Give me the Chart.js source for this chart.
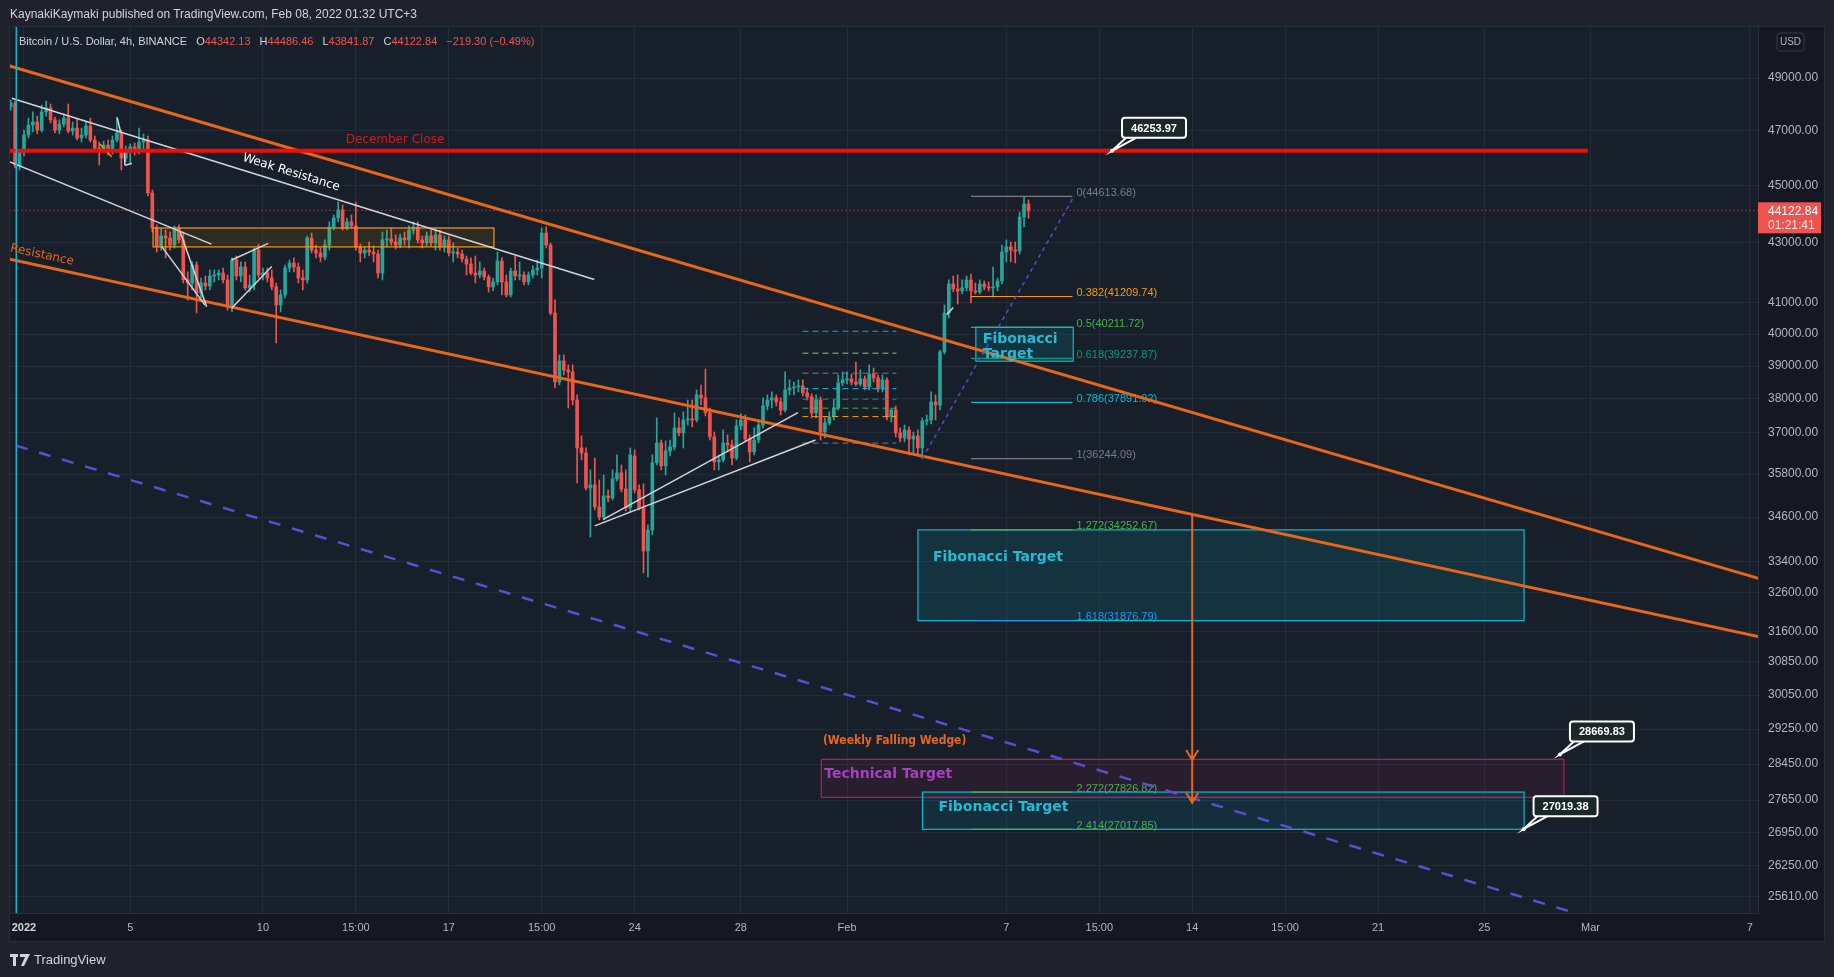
<!DOCTYPE html>
<html>
<head>
<meta charset="utf-8">
<title>Bitcoin / U.S. Dollar, 4h</title>
<script src="https://cdn.jsdelivr.net/npm/chart.js@4.4.1/dist/chart.umd.min.js"></script>
<style>
  html, body { margin: 0; padding: 0; background: #1f222c; }
  body { width: 1834px; height: 977px; position: relative; overflow: hidden; font-family: "Liberation Sans", Arial, sans-serif; }
  #chart { position: absolute; left: 0; top: 0; }
  .hdr { position: absolute; left: 10px; top: 7px; font-size: 12px; color: #d1d4dc; white-space: pre; }
  .legend { position: absolute; left: 19px; top: 35px; font-size: 11px; color: #d1d4dc; white-space: pre; }
  .legend .v { color: #ef5350; }
  .legend .g { margin-left: 9px; }
  .logo { position: absolute; left: 10px; top: 952px; font-size: 13px; color: #d1d4dc; display: flex; align-items: center; }
  .logo svg { margin-right: 4px; }
</style>
</head>
<body>
<canvas id="chart" width="1834" height="977"></canvas>
<div class="hdr">KaynakiKaymaki published on TradingView.com, Feb 08, 2022 01:32 UTC+3</div>
<div class="legend">Bitcoin / U.S. Dollar, 4h, BINANCE<span class="g">O</span><span class="v">44342.13</span><span class="g">H</span><span class="v">44486.46</span><span class="g">L</span><span class="v">43841.87</span><span class="g">C</span><span class="v">44122.84</span><span class="g v">−219.30 (−0.49%)</span></div>
<div class="logo"><svg width="20" height="12" viewBox="0 0 20 12"><rect x="0" y="0" width="8" height="3" fill="#d1d4dc"/><rect x="3" y="0" width="3" height="12" fill="#d1d4dc"/><polygon points="10,0 20,0 14,12 11,12 15,3 10,3" fill="#d1d4dc"/></svg>TradingView</div>
<script>
// 4h bars, first one starts 3 bars before 1 Jan 2022 00:00 (UTC+3)
const firstBar = -3;

const opens = [
  47890, 48040, 45700,
  46210, 46835, 47210, 47320, 47020, 47700,
  47850, 47400, 47020, 47245, 47470, 46985,
  47095, 46725, 46835, 47170, 46650, 46355,
  46285, 46465, 46210, 46650, 46910, 45990,
  46285, 46395, 46210, 46575, 46650, 44735,
  43510, 42895, 43235, 43165, 42925, 43510,
  43100, 41755, 41655, 42250, 41325, 41655,
  41555, 41885, 41920, 41985, 41755, 40870,
  42420, 41885, 42185, 41490, 41590, 42755,
  41920, 41985, 41820, 41525, 40935, 41260,
  42150, 42320, 42185, 41820, 41755, 43165,
  42755, 42655, 42520, 42925, 43545, 43855,
  44135, 43510, 43720, 43580, 42860, 42655,
  42755, 42690, 42620, 41985, 43100, 43130,
  43030, 42925, 43165, 43100, 43440, 43545,
  43100, 42995, 43235, 42995, 43270, 42860,
  43100, 42655, 42690, 42620, 42455, 42285,
  41985, 41920, 42050, 41850, 41525, 41690,
  42385, 41690, 41260, 42050, 41885, 41920,
  41690, 41920, 42085, 42150, 43335, 42925,
  40675, 38510, 39160, 38880, 38820, 37965,
  36550, 36405, 35410, 35495, 34880, 34605,
  35185, 35130, 35665, 35835, 35380, 34855,
  36320, 35355, 34855, 33685, 34250, 36120,
  36695, 36035, 36465, 36580, 37135, 36990,
  37370, 37400, 37370, 38120, 38030, 37580,
  36870, 36150, 36205, 36695, 36635, 36260,
  37195, 37370, 36810, 36435, 36780, 37220,
  37785, 37965, 38030, 37905, 37665, 38270,
  38330, 38360, 38390, 38180, 38060, 37580,
  37965, 37015, 37280, 37460, 37725, 38480,
  38575, 38605, 38510, 38450, 38605, 38360,
  38755, 38635, 38300, 38575, 37460, 37665,
  36990, 36840, 37075, 36810, 36900, 36550,
  37340, 37370, 37905, 37815, 39440, 40675,
  41620, 41460, 41390, 41490, 41755, 41390,
  41360, 41620, 41525, 41490, 41525, 41720,
  42690, 42860, 42755, 42720, 43890, 44342.13
];
const highs = [
  48150, 48115, 46285,
  47020, 47470, 47700, 47545, 47960, 48115,
  48000, 47510, 47400, 47620, 48000, 47320,
  47470, 47095, 47320, 47470, 46800, 46575,
  46615, 46650, 46800, 47510, 47020, 46430,
  46505, 46540, 47095, 46875, 46800, 44840,
  43615, 43510, 43440, 43370, 43580, 43615,
  43370, 42020, 42355, 42355, 41820, 41885,
  42085, 42085, 42085, 42150, 41920, 42490,
  42555, 42355, 42355, 41920, 42825, 42960,
  42150, 42150, 42085, 41655, 41425, 42250,
  42420, 42490, 42320, 42085, 43235, 43335,
  42925, 42825, 43100, 43720, 43960, 44415,
  44310, 43855, 43960, 44415, 42960, 42860,
  43030, 42895, 42755, 43370, 43440, 43510,
  43270, 43300, 43370, 43580, 43720, 43720,
  43235, 43370, 43440, 43510, 43440, 43235,
  43235, 42995, 42825, 42755, 42555, 42490,
  42555, 42355, 42150, 41920, 41820, 42690,
  42490, 41920, 42150, 42555, 42355, 42020,
  42020, 42220, 42420, 43510, 43545, 42995,
  41100, 39345, 39345, 39035, 39035, 38120,
  36900, 36550, 35920, 36260, 35635, 35775,
  35355, 35920, 36350, 36060, 35920, 36550,
  36490, 35495, 35525, 34390, 36350, 37430,
  36780, 36755, 36780, 37580, 37430, 37610,
  37965, 37965, 38270, 38420, 38910, 37725,
  37015, 36350, 37075, 36930, 36780, 37370,
  37550, 37520, 36930, 37135, 37370, 38030,
  38120, 38210, 38120, 38030, 38820, 38575,
  38510, 38575, 38575, 38330, 38150, 38120,
  38060, 37430, 37610, 37965, 38725, 38820,
  38820, 38755, 39125, 38880, 38695, 39035,
  38940, 38725, 38725, 38635, 37725, 37785,
  37135, 37220, 37165, 37015, 37075, 37430,
  37520, 38210, 38120, 39500, 40935, 41755,
  41885, 41920, 41755, 41885, 41950, 41655,
  41755, 41720, 41690, 42185, 41820, 42925,
  43100, 43030, 43030, 44065, 44613.68, 44486.46
];
const lows = [
  47770, 45630, 45555,
  46065, 46725, 46950, 46875, 46950, 47545,
  47285, 46910, 46875, 47135, 46910, 46835,
  46650, 46575, 46725, 46575, 46285, 45735,
  46210, 46100, 46135, 46575, 45555, 45845,
  45810, 46100, 46135, 46285, 44630, 43370,
  42690, 42755, 42490, 42755, 42825, 42995,
  41655, 41100, 41425, 40675, 41165, 41425,
  41425, 41690, 41755, 41655, 40770, 40710,
  41755, 41690, 41425, 41360, 41425, 41820,
  41755, 41690, 41425, 39720, 40710, 41165,
  42020, 42020, 41655, 41425, 41655, 42655,
  42490, 42355, 42420, 42755, 43440, 43720,
  43440, 43440, 43510, 42755, 42355, 42490,
  42555, 42355, 41820, 41755, 42860, 42925,
  42790, 42825, 42925, 42825, 43300, 42995,
  42825, 42895, 42895, 42755, 42755, 42690,
  42555, 42355, 42490, 42355, 41920, 41920,
  41655, 41820, 41755, 41360, 41390, 41590,
  41260, 41195, 41195, 41755, 41755, 41590,
  41590, 41820, 41920, 41820, 42825, 40610,
  38330, 38420, 38725, 37725, 37815, 35550,
  36205, 35355, 34060, 34800, 34525, 34525,
  35020, 35075, 35605, 35300, 34770, 34745,
  35270, 34800, 33105, 33000, 34115, 36060,
  35920, 35775, 36320, 36490, 36900, 36550,
  37220, 37165, 37310, 37815, 37490, 36780,
  35920, 35920, 36150, 36435, 36060, 36205,
  37075, 36755, 36150, 36350, 36695, 37135,
  37665, 37725, 37785, 37520, 37610, 38120,
  38120, 38210, 38090, 37965, 37430, 37430,
  36780, 36840, 37220, 37370, 37665, 38390,
  38450, 38420, 38390, 38390, 38270, 38270,
  38510, 38210, 38210, 37370, 37310, 36870,
  36725, 36725, 36350, 36350, 36350, 36244.09,
  37220, 37250, 37370, 37665, 39375, 40515,
  41360, 40965, 41295, 41390, 41000, 41295,
  41295, 41425, 41390, 41195, 41390, 41620,
  42355, 42355, 42320, 42620, 43545, 43841.87
];
const closes = [
  48040, 45735, 46210,
  46835, 47210, 47320, 47020, 47700, 47850,
  47400, 47020, 47245, 47470, 46985, 47095,
  46725, 46835, 47170, 46650, 46355, 46285,
  46465, 46210, 46650, 46910, 45990, 46285,
  46395, 46210, 46575, 46650, 44735, 43510,
  42895, 43235, 43165, 42925, 43510, 43100,
  41755, 41655, 42250, 41325, 41655, 41555,
  41885, 41920, 41985, 41755, 40870, 42420,
  41885, 42185, 41490, 41590, 42755, 41920,
  41985, 41820, 41525, 40935, 41260, 42150,
  42320, 42185, 41820, 41755, 43165, 42755,
  42655, 42520, 42925, 43545, 43855, 44135,
  43510, 43720, 43580, 42860, 42655, 42755,
  42690, 42620, 41985, 43100, 43130, 43030,
  42925, 43165, 43100, 43440, 43545, 43100,
  42995, 43235, 42995, 43270, 42860, 43100,
  42655, 42690, 42620, 42455, 42285, 41985,
  41920, 42050, 41850, 41525, 41690, 42385,
  41690, 41260, 42050, 41885, 41920, 41690,
  41920, 42085, 42150, 43335, 42925, 40675,
  38510, 39160, 38880, 38820, 37965, 36550,
  36405, 35410, 35495, 34880, 34605, 35185,
  35130, 35665, 35835, 35380, 34855, 36350,
  35355, 34855, 33685, 34250, 36120, 36695,
  36035, 36465, 36580, 37135, 36990, 37370,
  37400, 37370, 38120, 38030, 37580, 36870,
  36150, 36205, 36695, 36635, 36260, 37195,
  37370, 36810, 36435, 36780, 37220, 37785,
  37965, 38030, 37905, 37665, 38270, 38330,
  38360, 38390, 38180, 38060, 37580, 37965,
  37015, 37280, 37460, 37725, 38480, 38575,
  38605, 38510, 38450, 38605, 38360, 38755,
  38635, 38300, 38575, 37460, 37665, 36990,
  36840, 37075, 36810, 36900, 36550, 37340,
  37370, 37905, 37815, 39440, 40675, 41620,
  41460, 41390, 41490, 41755, 41390, 41360,
  41620, 41525, 41490, 41525, 41720, 42690,
  42860, 42755, 42720, 43890, 44342.13, 44122.84
];

// axes
const priceTicks = [49000, 47000, 45000, 43000, 41000, 40000, 39000, 38000, 37000, 35800,
  34600, 33400, 32600, 31600, 30850, 30050, 29250, 28450, 27650, 26950, 26250, 25610];
const timeTicks = [0, 4, 9, 12.5, 16, 19.5, 23, 27, 31, 37, 40.5, 44, 47.5, 51, 55, 59, 65];
const timeLabels = ['2022', '5', '10', '15:00', '17', '15:00', '24', '28', 'Feb', '7', '15:00', '14', '15:00', '21', '25', 'Mar', '7'];
const lastPrice = 44122.84;

// drawings, as [day since 1 Jan, price]
const decemberClose = 46253.97;
const channelUpper = [[-0.46, 49441], [65.27, 32971]];
const channelLower = [[-0.46, 42430], [65.27, 31482]];
const weakResistance = [[-0.46, 48222], [21.48, 41772]];
const innerTrend = [[-0.53, 45844], [7.06, 42958]];
const wedgeFloor = [[-0.46, 36653], [58.34, 25298]];
const fibTrend = [[33.83, 36244.09], [39.55, 44613.68]];
const fibSpan = [35.67, 39.49];
const fibLevels = [
  ['0', 44613.68, '#787b86'],
  ['0.382', 41209.74, '#ff9800'],
  ['0.5', 40211.72, '#4caf50'],
  ['0.618', 39237.87, '#089981'],
  ['0.786', 37891.92, '#00bcd4'],
  ['1', 36244.09, '#787b86'],
  ['1.272', 34252.67, '#4caf50'],
  ['1.618', 31876.79, '#2196f3'],
  ['2.272', 27826.82, '#4caf50'],
  ['2.414', 27017.85, '#4caf50']
];
const miniFibSpan = [29.32, 32.86];
const miniFibLevels = [[40090, '#2196f3'], [39400, '#81c784'], [38780, '#787b86'], [38310, '#00bcd4'],
  [37990, '#089981'], [37720, '#4caf50'], [37470, '#ff9800'], [36690, '#787b86']];
const whiteLines = [
  [[21.5, 34360], [29.81, 36780]],
  [[21.82, 34540], [29.15, 37585]],
  [[5.88, 43380], [6.88, 40880]],
  [[5.19, 42870], [6.82, 40930]],
  [[7.82, 42420], [9.2, 42980]],
  [[7.82, 40830], [9.33, 42200]],
  [[3.51, 47480], [3.64, 46940]],
  [[3.78, 46285], [3.8, 45730]],
  [[3.8, 45730], [4.06, 45790]],
  [[34.75, 40620], [35.0, 40850]]
];
const yellowTick = [[2.86, 46505], [3.3, 46040]];
const boxes = [
  [4.86, 43510, 17.7, 42862, 'rgba(255,152,0,0.10)', '#ff9800'],
  [35.85, 40218, 39.52, 39150, 'rgba(0,188,212,0.13)', '#00bcd4'],
  [33.67, 34252.67, 56.5, 31876.79, 'rgba(0,188,212,0.12)', '#00bcd4'],
  [30.03, 28558, 58.0, 27711, 'rgba(194,24,91,0.10)', '#c2185b'],
  [33.84, 27826.82, 56.5, 27017.85, 'rgba(0,188,212,0.10)', '#00bcd4']
];
const arrowDay = 44;
const arrowTop = 34668;
const arrowTips = [28542, 27592];
const callouts = [[40.98, 46253.97, '46253.97'], [57.85, 28669.83, '28669.83'], [56.48, 27019.38, '27019.38']];
const markerDay = -0.29;

const UP = '#26a69a', DOWN = '#ef5350';
const barDays = opens.map((_, i) => (firstBar + i) / 6);
const colorOf = c => (closes[c.dataIndex] >= opens[c.dataIndex] ? UP : DOWN);

Chart.defaults.font.family = '"Liberation Sans", Arial, sans-serif';

const paneBg = {
  id: 'paneBg',
  beforeDraw(chart) {
    const { ctx, chartArea: a } = chart;
    ctx.save();
    ctx.fillStyle = '#1f222c';
    ctx.fillRect(0, 0, chart.width, chart.height);
    ctx.fillStyle = '#151822';
    ctx.fillRect(9, 26, 1816, 916);
    ctx.fillStyle = '#17202a';
    ctx.fillRect(a.left, a.top, a.right - a.left, a.bottom - a.top);
    ctx.strokeStyle = '#2a2e39';
    ctx.lineWidth = 1;
    ctx.strokeRect(9.5, 26.5, 1815, 915);
    ctx.restore();
  }
};

const drawings = {
  id: 'drawings',
  afterDatasetsDraw(chart) {
    const { ctx, chartArea: a } = chart;
    const xs = chart.scales.x, ys = chart.scales.y;
    const X = d => xs.getPixelForValue(d);
    const Y = p => ys.getPixelForValue(p);
    const P = pt => [X(pt[0]), Y(pt[1])];

    function seg(pts, color, width, dash, extend) {
      let [x1, y1] = P(pts[0]), [x2, y2] = P(pts[1]);
      if (extend) {
        const dx = x2 - x1, dy = y2 - y1;
        x1 -= dx * 2; y1 -= dy * 2; x2 += dx * 2; y2 += dy * 2;
      }
      ctx.beginPath();
      ctx.strokeStyle = color;
      ctx.lineWidth = width;
      ctx.setLineDash(dash || []);
      ctx.moveTo(x1, y1);
      ctx.lineTo(x2, y2);
      ctx.stroke();
      ctx.setLineDash([]);
    }
    function textOn(pts, day, text, offset, font, color, align) {
      const [x1, y1] = P(pts[0]), [x2, y2] = P(pts[1]);
      const ang = Math.atan2(y2 - y1, x2 - x1);
      const x = X(day), y = y1 + (x - x1) * (y2 - y1) / (x2 - x1);
      ctx.save();
      ctx.translate(x, y);
      ctx.rotate(ang);
      ctx.font = font;
      ctx.fillStyle = color;
      ctx.textAlign = align || 'center';
      ctx.textBaseline = 'middle';
      ctx.fillText(text, 0, offset);
      ctx.restore();
    }
    function label(text, x, y, font, color) {
      ctx.font = font;
      ctx.fillStyle = color;
      ctx.textAlign = 'left';
      ctx.textBaseline = 'middle';
      ctx.fillText(text, x, y);
    }

    ctx.save();
    ctx.beginPath();
    ctx.rect(a.left, a.top, a.right - a.left, a.bottom - a.top);
    ctx.clip();

    // last price line
    seg([[-1, lastPrice], [66, lastPrice]], DOWN, 1, [1, 3]);

    // boxes
    const boxPx = boxes.map(b => {
      const x1 = X(b[0]), y1 = Y(b[1]), x2 = X(b[2]), y2 = Y(b[3]);
      ctx.fillStyle = b[4];
      ctx.fillRect(x1, y1, x2 - x1, y2 - y1);
      ctx.strokeStyle = b[5];
      ctx.lineWidth = 1.2;
      ctx.strokeRect(x1, y1, x2 - x1, y2 - y1);
      return { x: x1, y: y1 };
    });

    // fibonacci levels
    fibLevels.forEach(([lvl, price, color]) => {
      const y = Y(price);
      ctx.beginPath();
      ctx.strokeStyle = color;
      ctx.lineWidth = 1.2;
      ctx.moveTo(X(fibSpan[0]), y);
      ctx.lineTo(X(fibSpan[1]), y);
      ctx.stroke();
      ctx.font = '11px "Liberation Sans", Arial, sans-serif';
      ctx.fillStyle = color;
      ctx.textAlign = 'left';
      ctx.textBaseline = 'bottom';
      ctx.fillText(lvl + '(' + price.toFixed(2) + ')', X(fibSpan[1]) + 4, y + 2);
    });
    miniFibLevels.forEach(([price, color]) => seg([[miniFibSpan[0], price], [miniFibSpan[1], price]], color, 1, [6, 4]));

    // trend lines
    seg(channelUpper, '#e8661a', 3, null, true);
    seg(channelLower, '#e8661a', 3, null, true);
    seg(wedgeFloor, '#5b4fd0', 2.5, [12, 12], true);
    seg(fibTrend, '#5b4bc4', 1.5, [4, 4]);
    seg(weakResistance, '#d1d4dc', 1.5);
    seg(innerTrend, '#d1d4dc', 1.5);
    whiteLines.forEach(l => seg(l, '#d1d4dc', 1.5));
    seg(yellowTick, '#c9a80a', 1.5);

    // december close
    seg([[-1, decemberClose], [58.9, decemberClose]], '#f20d0d', 4);

    // vertical marker
    ctx.beginPath();
    ctx.strokeStyle = '#00bcd4';
    ctx.lineWidth = 1.5;
    ctx.moveTo(X(markerDay), a.top);
    ctx.lineTo(X(markerDay), a.bottom);
    ctx.stroke();

    // arrow
    const ax = X(arrowDay);
    ctx.beginPath();
    ctx.strokeStyle = '#e8661a';
    ctx.lineWidth = 2;
    ctx.moveTo(ax, Y(arrowTop));
    ctx.lineTo(ax, Y(arrowTips[1]));
    arrowTips.forEach(t => {
      const ty = Y(t);
      ctx.moveTo(ax - 6, ty - 10);
      ctx.lineTo(ax, ty);
      ctx.lineTo(ax + 6, ty - 10);
    });
    ctx.stroke();

    // texts
    const bold = 'bold 14px "DejaVu Sans", sans-serif';
    label('December Close', X(14) - 50, Y(decemberClose) - 11, '12px "DejaVu Sans", sans-serif', '#e31212');
    textOn(weakResistance, 9.93, 'Weak Resistance', -12, '12px "DejaVu Sans", sans-serif', '#ffffff');
    textOn(channelLower, -0.6, 'Resistance', -11, '12px "DejaVu Sans", sans-serif', '#e8661a', 'left');
    label('Fibonacci', boxPx[1].x + 7, boxPx[1].y + 12, bold, '#22bcd6');
    label('Target', boxPx[1].x + 7, boxPx[1].y + 27, bold, '#22bcd6');
    label('Fibonacci Target', boxPx[2].x + 15, boxPx[2].y + 27, bold, '#22bcd6');
    label('Technical Target', boxPx[3].x + 3, boxPx[3].y + 15, bold, '#a740c0');
    label('Fibonacci Target', boxPx[4].x + 16, boxPx[4].y + 15, bold, '#22bcd6');
    label('(Weekly Falling Wedge)', X(30.09), Y(28982), 'bold 12px "DejaVu Sans Condensed", "DejaVu Sans", sans-serif', '#e8661a');

    // price callouts
    callouts.forEach(([d, p, text]) => {
      const x = X(d), y = Y(p);
      const bx = x + 10, by = y - 33, bw = 64, bh = 20;
      ctx.beginPath();
      ctx.moveTo(bx + 4, by + bh);
      ctx.lineTo(x, y);
      ctx.lineTo(bx + 14, by + bh);
      ctx.strokeStyle = '#ffffff';
      ctx.lineWidth = 2;
      ctx.stroke();
      ctx.beginPath();
      ctx.arc(x, y, 2, 0, Math.PI * 2);
      ctx.fillStyle = '#ffffff';
      ctx.fill();
      ctx.beginPath();
      ctx.roundRect(bx, by, bw, bh, 3);
      ctx.fillStyle = '#1a2828';
      ctx.fill();
      ctx.stroke();
      ctx.font = 'bold 11px "Liberation Sans", Arial, sans-serif';
      ctx.fillStyle = '#ffffff';
      ctx.textAlign = 'center';
      ctx.textBaseline = 'middle';
      ctx.fillText(text, bx + bw / 2, by + bh / 2 + 1);
    });

    ctx.restore();
  }
};

const priceTag = {
  id: 'priceTag',
  afterDraw(chart) {
    const { ctx, chartArea: a } = chart;
    const ys = chart.scales.y;
    ctx.save();
    // clipped top label
    ctx.beginPath();
    ctx.rect(a.right + 1, a.top, 66, 40);
    ctx.clip();
    ctx.font = '12px "Liberation Sans", Arial, sans-serif';
    ctx.fillStyle = '#b2b5be';
    ctx.textBaseline = 'middle';
    ctx.fillText('51000.00', a.right + 10, ys.getPixelForValue(51000) - 4);
    ctx.restore();

    ctx.save();
    ctx.beginPath();
    ctx.roundRect(a.right + 19, 33, 27, 18, 3);
    ctx.fillStyle = '#151822';
    ctx.fill();
    ctx.strokeStyle = '#363a45';
    ctx.lineWidth = 1;
    ctx.stroke();
    ctx.font = '10px "Liberation Sans", Arial, sans-serif';
    ctx.fillStyle = '#b2b5be';
    ctx.textAlign = 'center';
    ctx.textBaseline = 'middle';
    ctx.fillText('USD', a.right + 32.5, 42);

    const y = ys.getPixelForValue(lastPrice);
    ctx.fillStyle = '#ef5350';
    ctx.fillRect(a.right, y - 8, 63, 31);
    ctx.textAlign = 'left';
    ctx.font = '12px "Liberation Sans", Arial, sans-serif';
    ctx.fillStyle = '#ffffff';
    ctx.fillText(lastPrice.toFixed(2), a.right + 10, y + 1);
    ctx.fillStyle = '#fde3e3';
    ctx.fillText('01:21:41', a.right + 10, y + 15);
    ctx.restore();
  }
};

new Chart(document.getElementById('chart'), {
  type: 'bar',
  data: {
    datasets: [
      {
        label: 'body',
        data: barDays.map((d, i) => ({ x: d, y: [opens[i], closes[i]] })),
        backgroundColor: colorOf,
        barThickness: 3,
        minBarLength: 1,
        grouped: false,
        order: 0
      },
      {
        label: 'wick',
        data: barDays.map((d, i) => ({ x: d, y: [lows[i], highs[i]] })),
        backgroundColor: colorOf,
        barThickness: 1,
        grouped: false,
        order: 1
      }
    ]
  },
  options: {
    responsive: false,
    animation: false,
    devicePixelRatio: 1,
    layout: { padding: { left: 10, top: 27, right: 10, bottom: 36 } },
    plugins: { legend: { display: false }, tooltip: { enabled: false } },
    scales: {
      x: {
        type: 'linear',
        min: -0.527,
        max: 65.31,
        bounds: 'data',
        offset: false,
        afterBuildTicks: s => { s.ticks = timeTicks.map(v => ({ value: v })); },
        afterFit: s => { s.height = 28; },
        ticks: {
          autoSkip: false,
          maxRotation: 0,
          padding: 8,
          callback: v => timeLabels[timeTicks.indexOf(v)],
          color: c => (c.tick && c.tick.value === 0 ? '#d1d4dc' : '#b2b5be'),
          font: c => (c.tick && c.tick.value === 0 ? { size: 11, weight: 'bold' } : { size: 11 })
        },
        grid: { color: '#222c38', drawTicks: false, offset: false },
        border: { color: '#2a2e39' }
      },
      y: {
        type: 'logarithmic',
        position: 'right',
        min: 25284,
        max: 51021,
        bounds: 'data',
        afterBuildTicks: s => { s.ticks = priceTicks.map(v => ({ value: v })); },
        afterFit: s => { s.width = 66; },
        ticks: {
          autoSkip: false,
          padding: 10,
          callback: v => Number(v).toFixed(2),
          color: '#b2b5be',
          font: { size: 12 }
        },
        grid: { color: '#222c38', drawTicks: false },
        border: { color: '#2a2e39' }
      }
    }
  },
  plugins: [paneBg, drawings, priceTag]
});
</script>
</body>
</html>
